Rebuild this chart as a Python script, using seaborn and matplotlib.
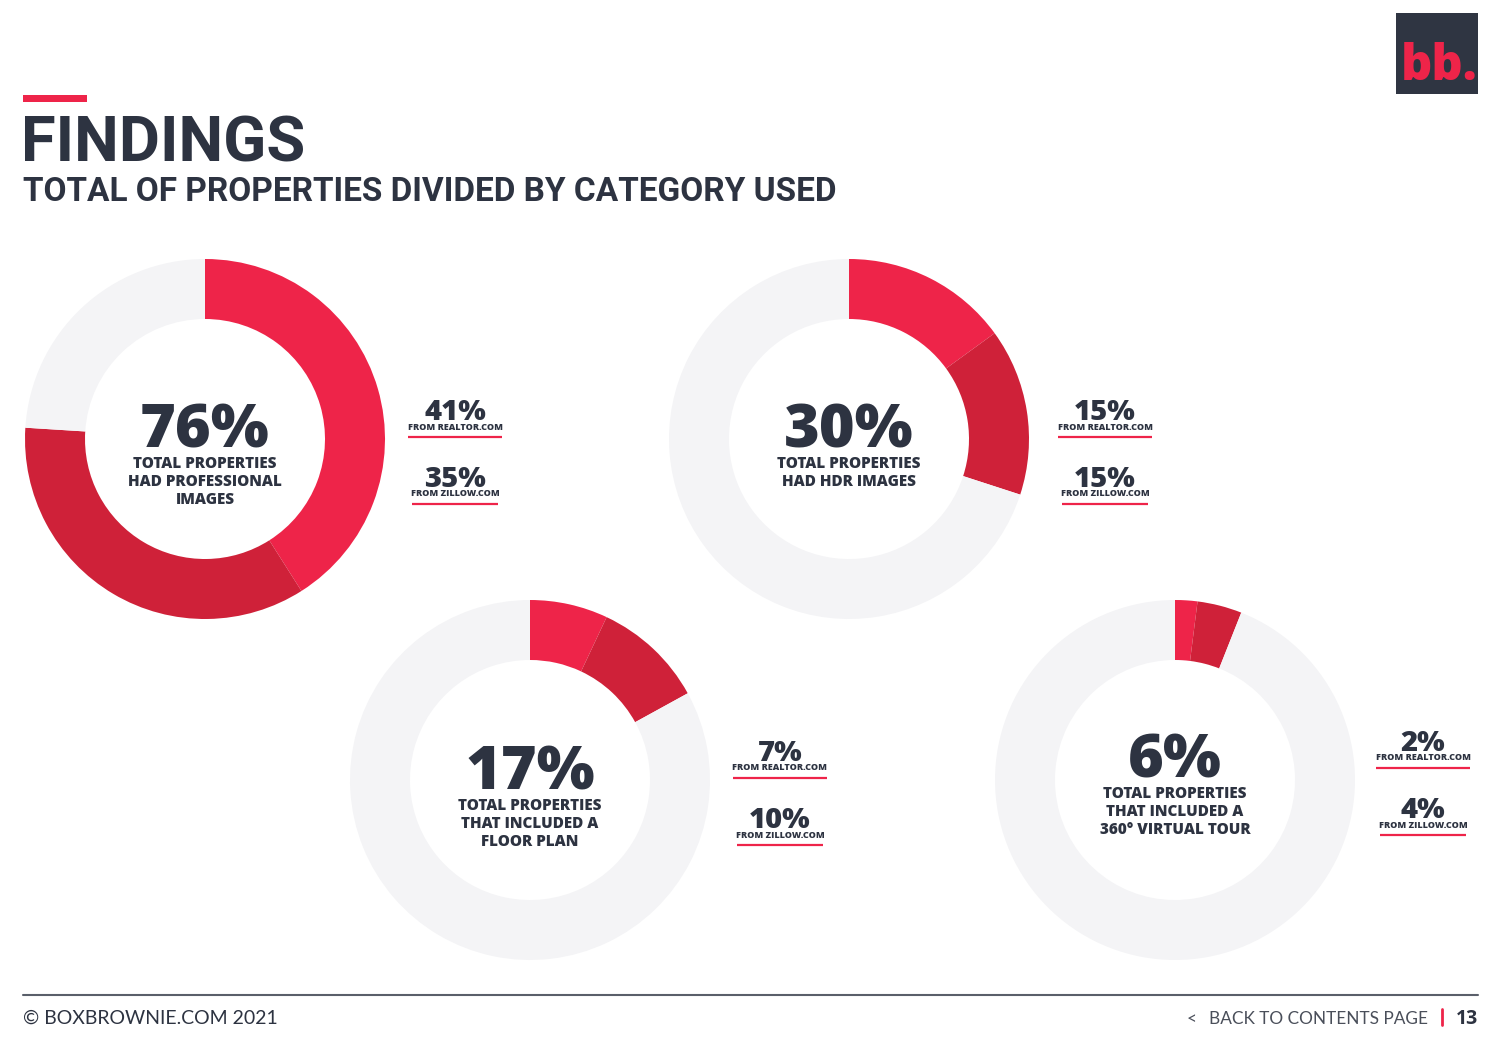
import matplotlib
matplotlib.use("Agg")
import matplotlib.pyplot as plt
import seaborn as sns
from matplotlib.patches import Rectangle

# ---------------- data ----------------
categories = [
    "TOTAL PROPERTIES\nHAD PROFESSIONAL\nIMAGES",
    "TOTAL PROPERTIES\nHAD HDR IMAGES",
    "TOTAL PROPERTIES\nTHAT INCLUDED A\nFLOOR PLAN",
    "TOTAL PROPERTIES\nTHAT INCLUDED A\n360° VIRTUAL TOUR",
]
total_pct = [76, 30, 17, 6]
realtor_pct = [41, 15, 7, 2]
zillow_pct = [35, 15, 10, 4]
source_labels = ["FROM REALTOR.COM", "FROM ZILLOW.COM"]

title = "FINDINGS"
subtitle = "TOTAL OF PROPERTIES DIVIDED BY CATEGORY USED"
footer_left = "© BOXBROWNIE.COM 2021"
footer_right = "BACK TO CONTENTS PAGE"
page_no = "13"

# ---------------- style ----------------
sns.set_theme(style="white")
plt.rcParams['font.family'] = ['Lato', 'DejaVu Sans']
BOLD = ["Open Sans", "DejaVu Sans"]

RED = "#EE2449"
DARKRED = "#CF2139"
GRAY = "#F4F4F6"
DARK = "#2D3341"
palette = sns.color_palette([RED, DARKRED, GRAY])

W, H = 1500, 1038
fig = plt.figure(figsize=(15, 10.38), dpi=100)
fig.patch.set_facecolor("white")

centers = [(205, 439), (849, 439), (530, 780), (1175, 780)]
R = 180
side_x = [455, 1105, 780, 1423]
center_num_dy = [9, 9, 10, -2]
side_dy = [-19, -19, -19, -29]

for i, (cx, cy) in enumerate(centers):
    ax = fig.add_axes([(cx - R) / W, 1 - (cy + R) / H, 2 * R / W, 2 * R / H])
    rest = 100 - realtor_pct[i] - zillow_pct[i]
    ax.pie([realtor_pct[i], zillow_pct[i], rest], colors=palette, startangle=90,
           counterclock=False, radius=1,
           wedgeprops=dict(width=1 / 3, linewidth=0, edgecolor="none"))
    ax.set_xlim(-1, 1)
    ax.set_ylim(-1, 1)
    ax.set_aspect("equal")
    ax.axis("off")
    ax.patch.set_alpha(0)

ov = fig.add_axes([0, 0, 1, 1])
ov.set_xlim(0, W)
ov.set_ylim(H, 0)
ov.axis("off")
ov.patch.set_alpha(0)

for i, (cx, cy) in enumerate(centers):
    by = cy + center_num_dy[i]
    ov.text(cx, by, f"{total_pct[i]}%", ha="center", va="baseline",
            fontsize=44, fontweight="heavy", color=DARK, family=BOLD)
    for j, line in enumerate(categories[i].split("\n")):
        ov.text(cx, by + 20 + 18 * j, line, ha="center", va="baseline",
                fontsize=11, fontweight="heavy", color=DARK, family=BOLD)
    sx = side_x[i]
    for k, (val, lab) in enumerate(zip([realtor_pct[i], zillow_pct[i]], source_labels)):
        y0 = cy + side_dy[i] + 67 * k
        ov.text(sx, y0, f"{val}%", ha="center", va="baseline",
                fontsize=21, fontweight="heavy", color=DARK, family=BOLD)
        ov.text(sx, y0 + 9.5, lab, ha="center", va="baseline",
                fontsize=6.5, fontweight="heavy", color=DARK, family=BOLD)
        hw = 47 if k == 0 else 43
        ov.plot([sx - hw, sx + hw], [y0 + 17, y0 + 17], color=RED, lw=1.6,
                solid_capstyle="butt")

# header
ov.add_patch(Rectangle((23, 95), 64, 7, color=RED, lw=0))
ov.text(21, 162, title, ha="left", va="baseline", fontsize=45.5,
        fontweight="bold", color=DARK, family=["Roboto", "DejaVu Sans"])
ov.text(23, 201, subtitle, ha="left", va="baseline", fontsize=24,
        fontweight="bold", color=DARK, family=["Roboto", "DejaVu Sans"])

# logo
ov.add_patch(Rectangle((1396, 13), 82, 81, color="#2F3542", lw=0))
ov.text(1439, 80, "bb.", ha="center", va="baseline", fontsize=35,
        fontweight="heavy", color=RED, family=BOLD)

# footer
ov.plot([23, 1478], [995, 995], color="#5A5F6A", lw=1.5)
ov.text(23, 1024, footer_left, ha="left", va="baseline", fontsize=14,
        color=DARK)
ov.text(1478, 1024, page_no, ha="right", va="baseline", fontsize=14,
        fontweight="bold", color=DARK, family=BOLD)
ov.plot([1442, 1442], [1009, 1025], color=RED, lw=2)
ov.text(1428, 1024, footer_right, ha="right", va="baseline", fontsize=12.4,
        color="#4A4F5A")
ov.text(1187, 1024, "<", ha="left", va="baseline", fontsize=12.4,
        color="#4A4F5A")

fig.savefig("out.png", dpi=100, facecolor="white")
